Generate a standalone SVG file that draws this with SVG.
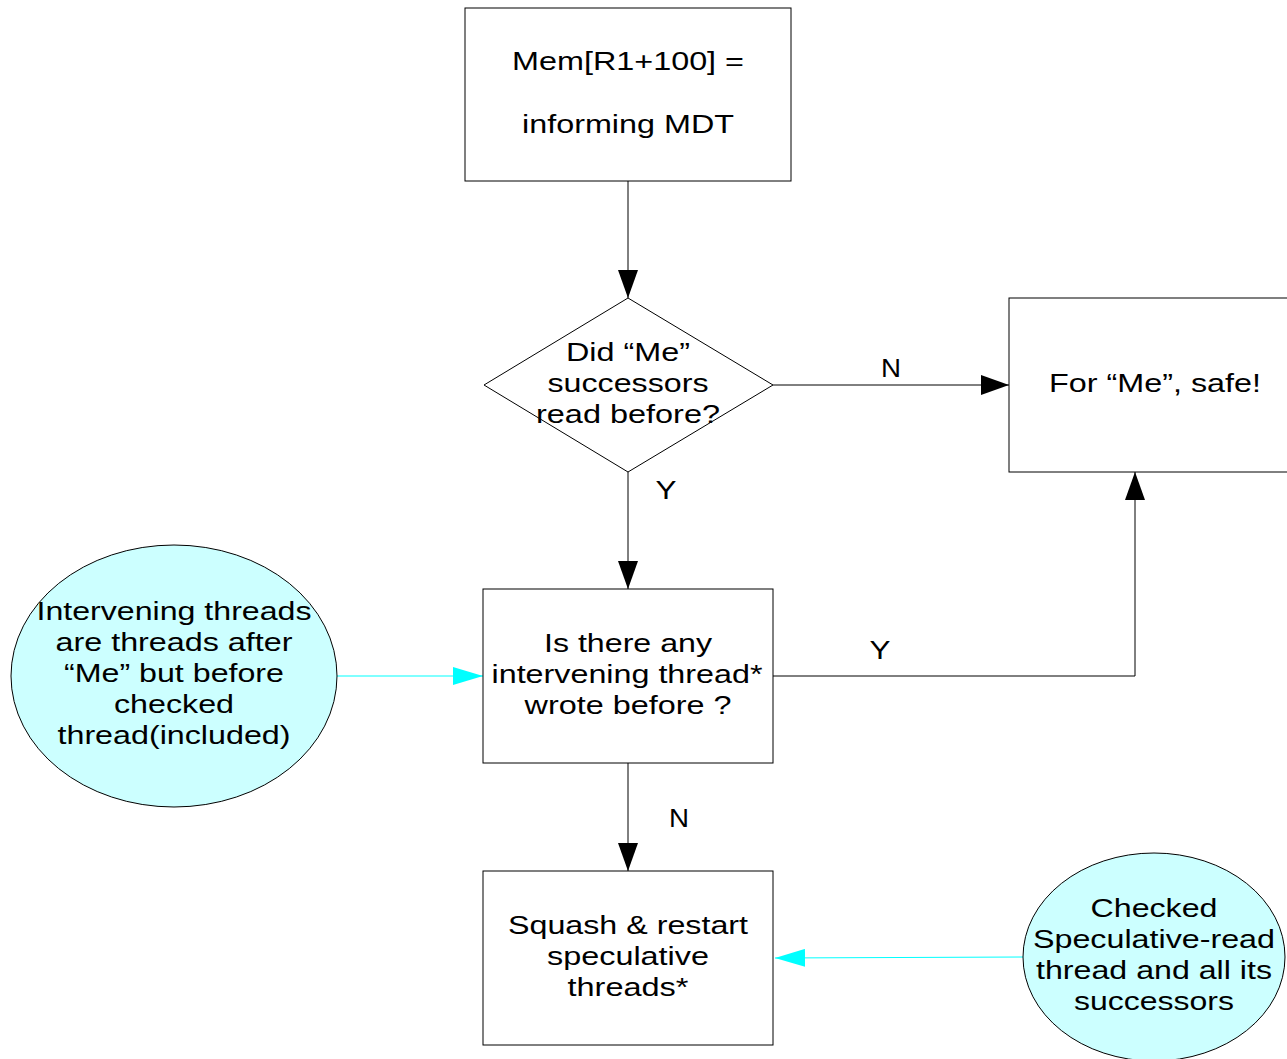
<svg xmlns="http://www.w3.org/2000/svg" width="1287" height="1059" viewBox="0 0 1287 1059">
  <style>
    .box { fill: #ffffff; stroke: #000000; stroke-width: 1; }
    .note { fill: #ccffff; stroke: #000000; stroke-width: 1; }
    .t { font-family: "Liberation Sans", Arial, sans-serif; font-size: 25px; fill: #000000; text-anchor: middle; }
    .lbl { font-family: "Liberation Sans", Arial, sans-serif; font-size: 25px; fill: #000000; text-anchor: middle; }
    .flow { fill: none; stroke: #000000; stroke-width: 1; }
    .hint { fill: none; stroke: #00ffff; stroke-width: 1; }
  </style>
  <defs>
    <marker id="arrow" viewBox="0 0 28 20" refX="28" refY="10" markerWidth="28" markerHeight="20" markerUnits="userSpaceOnUse" orient="auto">
      <path d="M0,0 L28,10 L0,20 Z" fill="#000000"/>
    </marker>
    <marker id="arrowCyan" viewBox="0 0 30 18" refX="30" refY="9" markerWidth="30" markerHeight="18" markerUnits="userSpaceOnUse" orient="auto">
      <path d="M0,0 L30,9 L0,18 Z" fill="#00ffff"/>
    </marker>
  </defs>

  <rect width="1287" height="1059" fill="#ffffff"/>

  <!-- connectors -->
  <g id="connectors">
    <line class="flow" x1="628" y1="181" x2="628" y2="298" marker-end="url(#arrow)"/>
    <line class="flow" x1="773" y1="385" x2="1009" y2="385" marker-end="url(#arrow)"/>
    <line class="flow" x1="628" y1="472" x2="628" y2="589" marker-end="url(#arrow)"/>
    <polyline class="flow" points="773,676 1135,676 1135,472" marker-end="url(#arrow)"/>
    <line class="flow" x1="628" y1="763" x2="628" y2="871" marker-end="url(#arrow)"/>
    <line class="hint" x1="337" y1="676" x2="483" y2="676" marker-end="url(#arrowCyan)"/>
    <line class="hint" x1="1024" y1="957" x2="775" y2="958" marker-end="url(#arrowCyan)"/>
    <text class="lbl" x="891" y="377" textLength="20" lengthAdjust="spacingAndGlyphs">N</text>
    <text class="lbl" x="666" y="499" textLength="21" lengthAdjust="spacingAndGlyphs">Y</text>
    <text class="lbl" x="880" y="659" textLength="21" lengthAdjust="spacingAndGlyphs">Y</text>
    <text class="lbl" x="679" y="827" textLength="20" lengthAdjust="spacingAndGlyphs">N</text>
  </g>

  <g id="start">
    <rect class="box" x="465" y="8" width="326" height="173"/>
    <text class="t" x="628" y="70" textLength="232" lengthAdjust="spacingAndGlyphs">Mem[R1+100] =</text>
    <text class="t" x="628" y="133" textLength="212" lengthAdjust="spacingAndGlyphs">informing MDT</text>
  </g>

  <g id="decision-read">
    <polygon class="box" points="628,298 773,385 628,472 484,385"/>
    <text class="t" x="628" y="361" textLength="124" lengthAdjust="spacingAndGlyphs">Did “Me”</text>
    <text class="t" x="628" y="392" textLength="161" lengthAdjust="spacingAndGlyphs">successors</text>
    <text class="t" x="628" y="423" textLength="184" lengthAdjust="spacingAndGlyphs">read before?</text>
  </g>

  <g id="safe">
    <rect class="box" x="1009" y="298" width="290" height="174"/>
    <text class="t" x="1155" y="392" textLength="212" lengthAdjust="spacingAndGlyphs">For “Me”, safe!</text>
  </g>

  <g id="decision-write">
    <rect class="box" x="483" y="589" width="290" height="174"/>
    <text class="t" x="628" y="652" textLength="168" lengthAdjust="spacingAndGlyphs">Is there any</text>
    <text class="t" x="627" y="683" textLength="271" lengthAdjust="spacingAndGlyphs">intervening thread*</text>
    <text class="t" x="628" y="714" textLength="207" lengthAdjust="spacingAndGlyphs">wrote before ?</text>
  </g>

  <g id="squash">
    <rect class="box" x="483" y="871" width="290" height="174"/>
    <text class="t" x="628" y="934" textLength="240" lengthAdjust="spacingAndGlyphs">Squash &amp; restart</text>
    <text class="t" x="628" y="965" textLength="162" lengthAdjust="spacingAndGlyphs">speculative</text>
    <text class="t" x="628" y="996" textLength="121" lengthAdjust="spacingAndGlyphs">threads*</text>
  </g>

  <g id="note-intervening">
    <ellipse class="note" cx="174" cy="676" rx="163" ry="131"/>
    <text class="t" x="174" y="620" textLength="275" lengthAdjust="spacingAndGlyphs">Intervening threads</text>
    <text class="t" x="174" y="651" textLength="237" lengthAdjust="spacingAndGlyphs">are threads after</text>
    <text class="t" x="174" y="682" textLength="220" lengthAdjust="spacingAndGlyphs">“Me” but before</text>
    <text class="t" x="174" y="713" textLength="120" lengthAdjust="spacingAndGlyphs">checked</text>
    <text class="t" x="174" y="744" textLength="233" lengthAdjust="spacingAndGlyphs">thread(included)</text>
  </g>

  <g id="note-checked">
    <ellipse class="note" cx="1154" cy="957" rx="131" ry="104"/>
    <text class="t" x="1154" y="917" textLength="127" lengthAdjust="spacingAndGlyphs">Checked</text>
    <text class="t" x="1154" y="948" textLength="242" lengthAdjust="spacingAndGlyphs">Speculative-read</text>
    <text class="t" x="1154" y="979" textLength="236" lengthAdjust="spacingAndGlyphs">thread and all its</text>
    <text class="t" x="1154" y="1010" textLength="160" lengthAdjust="spacingAndGlyphs">successors</text>
  </g>
</svg>
